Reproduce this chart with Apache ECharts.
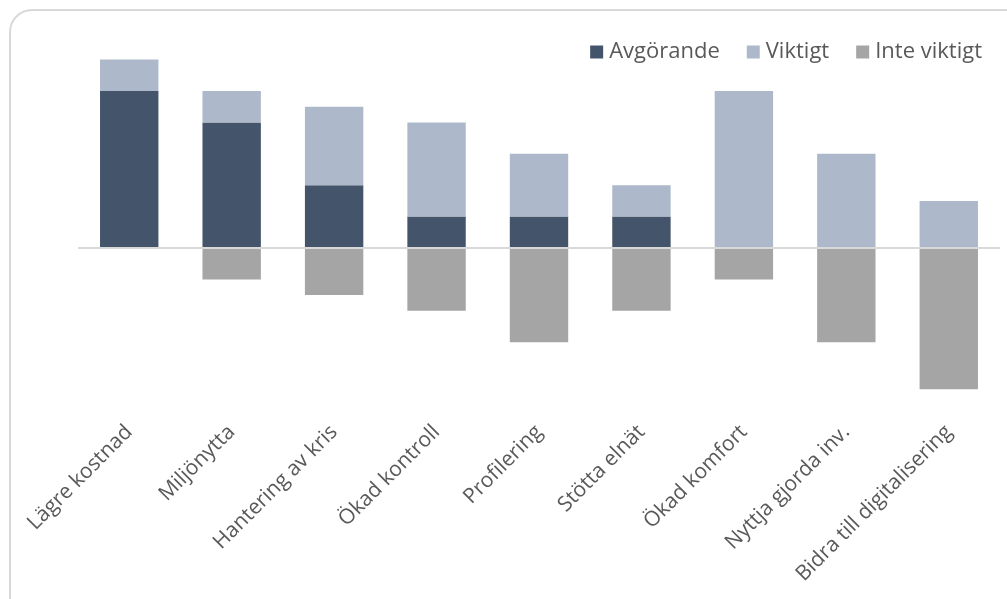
<!DOCTYPE html>
<html>
<head>
<meta charset="utf-8">
<script src="https://cdn.jsdelivr.net/npm/echarts@6/dist/echarts.min.js"></script>
<style>
  html, body { margin: 0; padding: 0; background: #fff; }
  #chart { width: 1007px; height: 599px; }
</style>
</head>
<body>
<div id="chart"></div>
<script>
// Categories and answer counts per reason
const categories = ['Lägre kostnad', 'Miljönytta', 'Hantering av kris', 'Ökad kontroll', 'Profilering', 'Stötta elnät', 'Ökad komfort', 'Nyttja gjorda inv.', 'Bidra till digitalisering'];
const avgorande = [5, 4, 2, 1, 1, 1, 0, 0, 0];
const viktigt = [1, 1, 2.5, 3, 2, 1, 5, 3, 1.5];
const inteViktigt = [0, -1, -1.5, -2, -3, -2, -1, -3, -4.5];

const chart = echarts.init(document.getElementById('chart'));
const font = 'Open Sans';

chart.setOption({
  animation: false,
  textStyle: { fontFamily: font },
  graphic: [{
    type: 'rect',
    shape: { x: 10, y: 10, width: 1020, height: 620, r: 22 },
    style: { fill: 'none', stroke: '#d9d9d9', lineWidth: 2 },
    silent: true, z: -10
  }],
  legend: {
    right: 20, top: 36,
    itemWidth: 13, itemHeight: 13, itemGap: 27,
    icon: 'rect',
    textStyle: { color: '#595959', fontSize: 22, fontFamily: font, padding: [0, 0, 0, 1] },
    data: ['Avgörande', 'Viktigt', 'Inte viktigt']
  },
  grid: { left: 78, right: 7, top: 59.6, bottom: 178.3, containLabel: false },
  xAxis: {
    type: 'category',
    data: categories,
    axisLine: { show: false, onZero: false },
    axisTick: { show: false },
    axisLabel: { rotate: 45, color: '#595959', fontSize: 21, fontFamily: font, margin: 8, interval: 0 }
  },
  yAxis: {
    type: 'value', min: -5.5, max: 6, interval: 0.5,
    show: false
  },
  series: [
    {
      name: 'Avgörande', type: 'bar', stack: 'total', barWidth: '57%',
      data: avgorande, itemStyle: { color: '#44546a' },
      markLine: {
        silent: true, symbol: 'none', label: { show: false },
        lineStyle: { color: '#d9d9d9', width: 2, type: 'solid' },
        data: [{ yAxis: 0 }]
      }
    },
    {
      name: 'Viktigt', type: 'bar', stack: 'total',
      data: viktigt, itemStyle: { color: '#adb9ca' }
    },
    {
      name: 'Inte viktigt', type: 'bar', stack: 'total',
      data: inteViktigt, itemStyle: { color: '#a5a5a5' }
    }
  ]
});
</script>
</body>
</html>
